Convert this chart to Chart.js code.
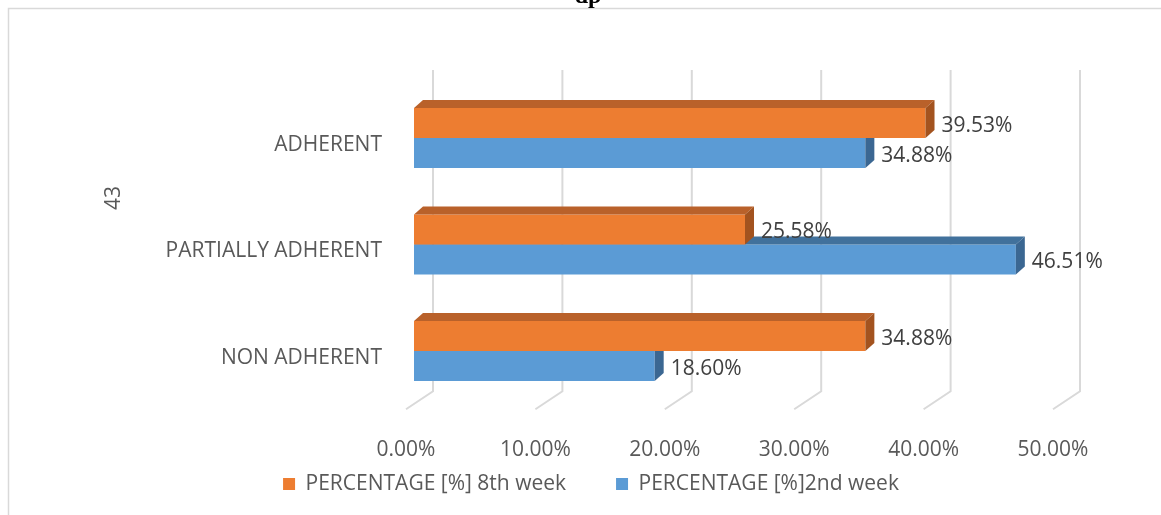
<!DOCTYPE html>
<html>
<head>
<meta charset="utf-8">
<script src="https://cdn.jsdelivr.net/npm/chart.js@4.4.1/dist/chart.umd.min.js"></script>
<style>
  html, body { margin: 0; padding: 0; background: #ffffff; }
  #wrap { position: relative; width: 1161px; height: 515px; }
</style>
</head>
<body>
<div id="wrap"><canvas id="c" width="1161" height="515"></canvas></div>
<script>
// Adherence categories and the two survey rounds (percent of patients)
const categories = ['ADHERENT', 'PARTIALLY ADHERENT', 'NON ADHERENT'];
const week8Values = [39.53, 25.58, 34.88];
const week2Values = [34.88, 46.51, 18.60];
const seriesNames = ['PERCENTAGE [%] 8th week', 'PERCENTAGE [%]2nd week'];
const xTickValues = [0, 10, 20, 30, 40, 50];
const axisTitle = '43';
const headingText = 'dp';

const FONT = "'Open Sans', 'DejaVu Sans', sans-serif";
const FONT_SIZE = 21;
const TEXT_GREY = '#595959';
const LABEL_GREY = '#404040';

// Colours for the front, top and side faces of the extruded bars
const faces = [
  { front: '#ED7D31', top: '#B9612A', side: '#A3531F' },
  { front: '#5B9BD5', top: '#41719C', side: '#3B6792' }
];
const DX = 9, DY = 8;          // extrusion depth of the bars
const BACK_DX = 19, BACK_DY = 18, FLOOR_DX = 8; // back wall / floor offsets

function poly(ctx, pts, color) {
  ctx.beginPath();
  ctx.moveTo(pts[0][0], pts[0][1]);
  for (let i = 1; i < pts.length; i++) ctx.lineTo(pts[i][0], pts[i][1]);
  ctx.closePath();
  ctx.fillStyle = color;
  ctx.fill();
}

const depthPlugin = {
  id: 'depth',
  beforeDraw(chart) {
    const ctx = chart.ctx;
    ctx.save();
    // outer frame
    ctx.strokeStyle = '#D9D9D9';
    ctx.lineWidth = 1.5;
    ctx.beginPath();
    ctx.moveTo(8.5, 515);
    ctx.lineTo(8.5, 8.5);
    ctx.lineTo(1161, 8.5);
    ctx.stroke();
    // heading (clipped by the top edge)
    ctx.fillStyle = '#000000';
    ctx.font = "bold 24px 'Liberation Serif', serif";
    ctx.textAlign = 'center';
    ctx.textBaseline = 'alphabetic';
    ctx.fillText(headingText, 588, 3);
    // vertical axis title
    ctx.translate(114, 198);
    ctx.rotate(-Math.PI / 2);
    ctx.fillStyle = TEXT_GREY;
    ctx.font = FONT_SIZE + 'px ' + FONT;
    ctx.textAlign = 'center';
    ctx.textBaseline = 'middle';
    ctx.fillText(axisTitle, 0, 0);
    ctx.restore();
  },
  beforeDatasetsDraw(chart) {
    const ctx = chart.ctx;
    const xs = chart.scales.x;
    const area = chart.chartArea;
    ctx.save();
    ctx.strokeStyle = '#D9D9D9';
    ctx.lineWidth = 2;
    xTickValues.forEach(v => {
      const fx = xs.getPixelForValue(v);
      const backBottom = area.bottom - 13;
      ctx.beginPath();
      ctx.moveTo(fx + BACK_DX, 70);
      ctx.lineTo(fx + BACK_DX, backBottom);
      ctx.lineTo(fx - FLOOR_DX, backBottom + BACK_DY);
      ctx.stroke();
    });
    ctx.restore();
  },
  afterDatasetDraw(chart, args) {
    const ctx = chart.ctx;
    const col = faces[args.index];
    ctx.save();
    args.meta.data.forEach(bar => {
      const p = bar.getProps(['x', 'y', 'base', 'height'], true);
      const top = p.y - p.height / 2, bot = p.y + p.height / 2;
      const x0 = p.base, x1 = p.x;
      poly(ctx, [[x0, top], [x0 + DX, top - DY], [x1 + DX, top - DY], [x1, top]], col.top);
      poly(ctx, [[x1, top], [x1 + DX, top - DY], [x1 + DX, bot - DY], [x1, bot]], col.side);
    });
    ctx.restore();
  },
  afterDatasetsDraw(chart) {
    const ctx = chart.ctx;
    ctx.save();
    ctx.fillStyle = LABEL_GREY;
    ctx.font = FONT_SIZE + 'px ' + FONT;
    ctx.textAlign = 'left';
    ctx.textBaseline = 'middle';
    chart.data.datasets.forEach((ds, i) => {
      chart.getDatasetMeta(i).data.forEach((bar, j) => {
        const p = bar.getProps(['x', 'y'], true);
        ctx.fillText(ds.data[j].toFixed(2) + '%', p.x + 16, p.y + 3);
      });
    });
    ctx.restore();
  }
};

new Chart(document.getElementById('c'), {
  type: 'bar',
  data: {
    labels: categories,
    datasets: [
      { label: seriesNames[0], data: week8Values, backgroundColor: faces[0].front, borderWidth: 0 },
      { label: seriesNames[1], data: week2Values, backgroundColor: faces[1].front, borderWidth: 0 }
    ]
  },
  options: {
    indexAxis: 'y',
    responsive: false,
    animation: false,
    devicePixelRatio: 1,
    categoryPercentage: 0.563,
    barPercentage: 1,
    layout: { padding: { left: 121, right: 100, top: 84.75, bottom: 10.5 } },
    scales: {
      x: {
        min: 0,
        max: 50,
        afterBuildTicks: s => { s.ticks = xTickValues.map(v => ({ value: v })); },
        afterFit: s => { s.height = 19.25; },
        border: { display: false },
        grid: { display: false, drawTicks: false },
        ticks: {
          mirror: true,
          padding: -58.35,
          labelOffset: -8,
          color: TEXT_GREY,
          font: { family: FONT, size: FONT_SIZE },
          callback: v => Number(v).toFixed(2) + '%'
        }
      },
      y: {
        afterFit: s => { s.width = 293; },
        border: { display: false },
        grid: { display: false, drawTicks: false },
        ticks: {
          padding: 32,
          labelOffset: 7,
          color: TEXT_GREY,
          font: { family: FONT, size: FONT_SIZE }
        }
      }
    },
    plugins: {
      legend: {
        position: 'bottom',
        labels: {
          boxWidth: 12,
          boxHeight: 12,
          padding: 50,
          color: TEXT_GREY,
          font: { family: FONT, size: FONT_SIZE }
        }
      },
      tooltip: { enabled: false },
      title: { display: false }
    }
  },
  plugins: [depthPlugin]
});
</script>
</body>
</html>
